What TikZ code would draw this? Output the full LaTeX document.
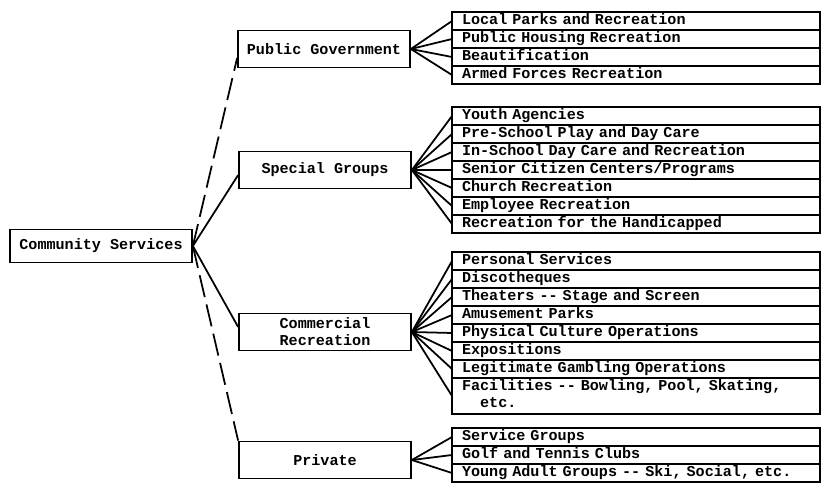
\documentclass[tikz,border=0pt]{standalone}
\usepackage{fontspec}
\setmonofont{Liberation Mono}
\usetikzlibrary{positioning}
\tikzset{
boxstyle/.style={
  draw=black,
  line width=1pt,
  align=center,
  inner sep=0pt,
  font=\ttfamily\bfseries\fontsize{8.6}{9.7}\selectfont,
  }
}
\tikzset{
rowstyle/.style={
  draw=black,
  line width=1pt,
  outer sep=0pt,
  minimum width=7.36cm,
  minimum height=0.36cm,
  inner xsep=0.2cm,
  inner ysep=0pt,
  text width=6.96cm,
  align=left,
  execute at begin node=\strut,
  font=\ttfamily\bfseries\fontsize{8.6}{9.7}\selectfont,
  }
}
\tikzset{
myline/.style={
  line width=1pt
  }
}
\tikzset{
mydashed/.style={
  line width=1pt,
  dash pattern=on 0.45cm off 0.15cm
  }
}

\begin{document}
\begin{tikzpicture}[x=0.02cm,y=-0.02cm]
    \useasboundingbox (0,0) rectangle (832,484);
    % root and the four groups
    \node[boxstyle, minimum width=3.64cm, minimum height=0.66cm] (root) at (101,246) {Community Services};
    \node[boxstyle, minimum width=3.44cm, minimum height=0.74cm] (pg) at (324,49) {Public Government};
    \node[boxstyle, minimum width=3.44cm, minimum height=0.74cm] (sg) at (325,170) {Special Groups};
    \node[boxstyle, minimum width=3.44cm, minimum height=0.74cm] (cr) at (325,332) {Commercial\\Recreation};
    \node[boxstyle, minimum width=3.44cm, minimum height=0.74cm] (pv) at (325,460) {Private};
    % public government
    \node[rowstyle, anchor=north west] (pg1) at (452,12) {Local Parks and Recreation};
    \node[rowstyle, below=0pt of pg1] (pg2) {Public Housing Recreation};
    \node[rowstyle, below=0pt of pg2] (pg3) {Beautification};
    \node[rowstyle, below=0pt of pg3] (pg4) {Armed Forces Recreation};
    % special groups
    \node[rowstyle, anchor=north west] (sg1) at (452,107) {Youth Agencies};
    \node[rowstyle, below=0pt of sg1] (sg2) {Pre-School Play and Day Care};
    \node[rowstyle, below=0pt of sg2] (sg3) {In-School Day Care and Recreation};
    \node[rowstyle, below=0pt of sg3] (sg4) {Senior Citizen Centers/Programs};
    \node[rowstyle, below=0pt of sg4] (sg5) {Church Recreation};
    \node[rowstyle, below=0pt of sg5] (sg6) {Employee Recreation};
    \node[rowstyle, below=0pt of sg6] (sg7) {Recreation for the Handicapped};
    % commercial recreation
    \node[rowstyle, anchor=north west] (cr1) at (452,252) {Personal Services};
    \node[rowstyle, below=0pt of cr1] (cr2) {Discotheques};
    \node[rowstyle, below=0pt of cr2] (cr3) {Theaters -- Stage and Screen};
    \node[rowstyle, below=0pt of cr3] (cr4) {Amusement Parks};
    \node[rowstyle, below=0pt of cr4] (cr5) {Physical Culture Operations};
    \node[rowstyle, below=0pt of cr5] (cr6) {Expositions};
    \node[rowstyle, below=0pt of cr6] (cr7) {Legitimate Gambling Operations};
    \node[rowstyle, below=0pt of cr7, minimum height=0.72cm] (cr8) {Facilities -- Bowling, Pool, Skating,\\\hspace*{1.2em}etc.\strut};
    % private
    \node[rowstyle, anchor=north west] (pv1) at (452,428) {Service Groups};
    \node[rowstyle, below=0pt of pv1] (pv2) {Golf and Tennis Clubs};
    \node[rowstyle, below=0pt of pv2] (pv3) {Young Adult Groups -- Ski, Social, etc.};

    \draw[mydashed] (root.east) -- ([yshift=-0.18cm]pg.west);
    \draw[myline] (root.east) -- ([yshift=-0.1cm]sg.west);
    \draw[myline] (root.east) -- ([yshift=0.1cm]cr.west);
    \draw[mydashed] (root.east) -- (pv.north west);

    \draw[myline] (pg.east) -- (pg1.west);
    \draw[myline] (pg.east) -- (pg2.west);
    \draw[myline] (pg.east) -- (pg3.west);
    \draw[myline] (pg.east) -- (pg4.west);

    \draw[myline] (sg.east) -- (sg1.west);
    \draw[myline] (sg.east) -- (sg2.west);
    \draw[myline] (sg.east) -- (sg3.west);
    \draw[myline] (sg.east) -- (sg4.west);
    \draw[myline] (sg.east) -- (sg5.west);
    \draw[myline] (sg.east) -- (sg6.west);
    \draw[myline] (sg.east) -- (sg7.west);

    \draw[myline] (cr.east) -- (cr1.west);
    \draw[myline] (cr.east) -- (cr2.west);
    \draw[myline] (cr.east) -- (cr3.west);
    \draw[myline] (cr.east) -- (cr4.west);
    \draw[myline] (cr.east) -- (cr5.west);
    \draw[myline] (cr.east) -- (cr6.west);
    \draw[myline] (cr.east) -- (cr7.west);
    \draw[myline] (cr.east) -- (cr8.west);

    \draw[myline] (pv.east) -- (pv1.west);
    \draw[myline] (pv.east) -- (pv2.west);
    \draw[myline] (pv.east) -- (pv3.west);
  \end{tikzpicture}
\end{document}
